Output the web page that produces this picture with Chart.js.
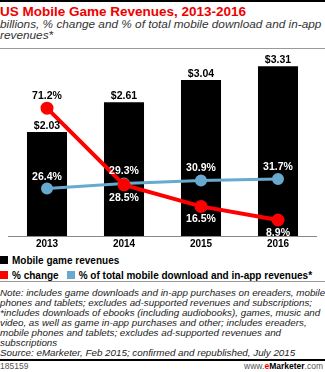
<!DOCTYPE html>
<html>
<head>
<meta charset="utf-8">
<script src="https://cdn.jsdelivr.net/npm/chart.js@4.4.0/dist/chart.umd.min.js"></script>
<style>
  body { margin: 0; background: #fff; }
  #wrap { position: relative; width: 325px; height: 372px; overflow: hidden; font-family: "Liberation Sans", Arial, sans-serif; }
  .abs { position: absolute; left: 0; }
  #topbar { top: 0; width: 325px; height: 2px; background: #000; }
  #title { top: 4px; font-weight: bold; font-size: 13.5px; color: #e00; line-height: 16px; white-space: nowrap; }
  #sub { top: 19px; font-style: italic; font-size: 11.8px; color: #333; line-height: 11px; white-space: nowrap; }
  #sep1 { top: 48px; width: 325px; height: 1px; background: #999; }
  #chartBox { top: 48px; width: 325px; height: 204px; }
  #legend { top: 253px; font-weight: bold; font-size: 10px; color: #000; }
  .lrow { height: 15px; line-height: 15px; white-space: nowrap; }
  .sw { display: inline-block; width: 8px; height: 8px; margin-right: 4px; }
  .item { margin-right: 8px; }
  #sep2 { top: 281px; width: 325px; height: 1px; background: #999; }
  #notes { top: 288px; font-style: italic; font-size: 9.8px; color: #222; line-height: 10px; width: 325px; white-space: nowrap; }
  #sep3 { top: 359px; width: 325px; height: 2px; background: #000; }
  #foot { top: 361px; width: 325px; font-size: 8.5px; color: #555; line-height: 11px; }
  #foot .r { position: absolute; right: 2px; top: 0; }
</style>
</head>
<body>
<div id="wrap">
  <div class="abs" id="topbar"></div>
  <div class="abs" id="title">US Mobile Game Revenues, 2013-2016</div>
  <div class="abs" id="sub">billions, % change and % of total mobile download and in-app<br>revenues*</div>
  <div class="abs" id="sep1"></div>
  <div class="abs" id="chartBox"><canvas id="chart" width="325" height="204"></canvas></div>
  <div class="abs" id="legend"></div>
  <div class="abs" id="sep2"></div>
  <div class="abs" id="notes">Note: includes game downloads and in-app purchases on ereaders, mobile<br>phones and tablets; excludes ad-supported revenues and subscriptions;<br>*includes downloads of ebooks (including audiobooks), games, music and<br>video, as well as game in-app purchases and other; includes ereaders,<br>mobile phones and tablets; excludes ad-supported revenues and<br>subscriptions<br>Source: eMarketer, Feb 2015; confirmed and republished, July 2015</div>
  <div class="abs" id="sep3"></div>
  <div class="abs" id="foot">185159<span class="r">www.<b style="color:#000"><span style="color:#e00">e</span>Marketer</b>.com</span></div>
</div>
<script>
// データ
var years = ['2013', '2014', '2015', '2016'];
var revenues = [2.03, 2.61, 3.04, 3.31];          // billions
var pctChange = [71.2, 28.5, 16.5, 8.9];          // % change
var pctTotal = [26.4, 29.3, 30.9, 31.7];          // % of total mobile download and in-app

var seriesNames = ['Mobile game revenues', '% change', '% of total mobile download and in-app revenues*'];
var seriesColors = ['#000000', '#ff0000', '#67a9cf'];

// ラベル描画プラグイン
var labelPlugin = {
  id: 'valueLabels',
  afterDatasetsDraw: function(chart) {
    var ctx = chart.ctx;
    var bars = chart.getDatasetMeta(0).data;
    ctx.save();
    ctx.textAlign = 'center';
    ctx.textBaseline = 'middle';
    ctx.font = 'bold 10.5px "Liberation Sans", Arial, sans-serif';
    // 棒グラフ
    bars.forEach(function(el, i) {
      ctx.fillStyle = '#000';
      ctx.fillText('$' + revenues[i].toFixed(2), el.x, el.y - 6);
    });
    // 折れ線
    [1, 2].forEach(function(di) {
      var ds = chart.data.datasets[di];
      chart.getDatasetMeta(di).data.forEach(function(el, i) {
        var txt = ds.data[i].toFixed(1) + '%';
        var outside = el.y < bars[i].y;
        if (outside) {
          ctx.fillStyle = '#000';
          ctx.fillText(txt, el.x, el.y - 12);
        } else {
          ctx.fillStyle = '#fff';
          var dy = ds.labelPos === 'below' ? 13 : -12;
          ctx.fillText(txt, el.x, el.y + dy);
        }
      });
    });
    ctx.restore();
  }
};

var canvas = document.getElementById('chart');
var ctx = canvas.getContext('2d');
var myChart = new Chart(ctx, {
  type: 'bar',
  data: {
    labels: years,
    datasets: [
      {
        type: 'bar',
        label: seriesNames[0],
        data: revenues,
        backgroundColor: seriesColors[0],
        yAxisID: 'y',
        order: 3,
        categoryPercentage: 1,
        barPercentage: 0.52
      },
      {
        type: 'line',
        label: seriesNames[1],
        data: pctChange,
        borderColor: seriesColors[1],
        backgroundColor: seriesColors[1],
        borderWidth: 4,
        pointRadius: 4.5,
        pointHoverRadius: 4.5,
        yAxisID: 'y1',
        order: 1,
        labelPos: 'below'
      },
      {
        type: 'line',
        label: seriesNames[2],
        data: pctTotal,
        borderColor: seriesColors[2],
        backgroundColor: seriesColors[2],
        borderWidth: 3,
        pointRadius: 4.5,
        pointHoverRadius: 4.5,
        yAxisID: 'y1',
        order: 2,
        labelPos: 'above'
      }
    ]
  },
  options: {
    responsive: false,
    animation: false,
    layout: { padding: { left: -11, right: -10, top: 2, bottom: 0 } },
    plugins: {
      legend: { display: false },
      tooltip: { enabled: false }
    },
    scales: {
      x: {
        offset: true,
        grid: { display: false, drawTicks: false },
        border: { display: true, color: '#888', width: 1 },
        ticks: {
          padding: 2,
          color: '#000',
          font: { family: '"Liberation Sans", Arial, sans-serif', size: 10, weight: 'bold' }
        }
      },
      y: { display: false, min: 0, max: 3.5 },
      y1: { display: false, min: 0, max: 100 }
    }
  },
  plugins: [labelPlugin]
});

// 凡例
var lg = document.getElementById('legend');
function item(i) {
  return '<span class="item"><span class="sw" style="background:' + seriesColors[i] + '"></span>' + seriesNames[i] + '</span>';
}
lg.innerHTML = '<div class="lrow">' + item(0) + '</div><div class="lrow">' + item(1) + item(2) + '</div>';
</script>
</body>
</html>
